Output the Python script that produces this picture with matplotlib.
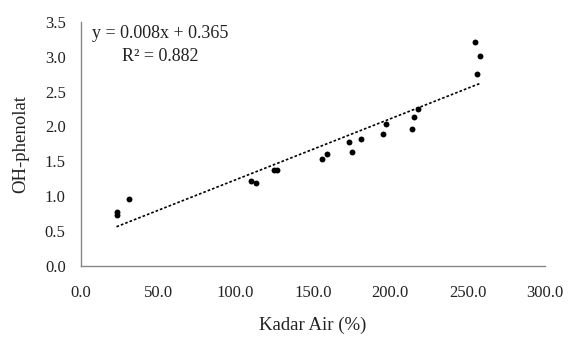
import numpy as np
import matplotlib
matplotlib.use("Agg")
import matplotlib.pyplot as plt

# Data
kadar_air = [23, 23, 31, 110, 113, 125, 127, 156, 159, 173, 175, 181, 195, 197,
             214, 215, 218, 255, 258, 256]
oh_phenolat = [0.78, 0.73, 0.96, 1.22, 1.19, 1.37, 1.38, 1.53, 1.60, 1.78, 1.63,
               1.82, 1.89, 2.03, 1.97, 2.14, 2.25, 3.21, 3.01, 2.75]
x_ticks = [0, 50, 100, 150, 200, 250, 300]
y_ticks = [0.0, 0.5, 1.0, 1.5, 2.0, 2.5, 3.0, 3.5]
eq_text = "y = 0.008x + 0.365"
r2_text = "R² = 0.882"

plt.rcParams['font.family'] = ['Liberation Serif', 'DejaVu Serif']

fig = plt.figure(figsize=(5.78, 3.40), dpi=100)
ax = fig.add_axes([0.140, 0.2176, 0.803, 0.7184])

x = np.array(kadar_air, dtype=float)
y = np.array(oh_phenolat, dtype=float)
ax.scatter(x, y, s=18, color='black', zorder=3, linewidths=0)

slope, intercept = np.polyfit(x, y, 1)
xl = np.array([x.min(), x.max()])
ax.plot(xl, slope * xl + intercept, color='black', lw=1.2,
        linestyle=(0, (1.6, 1.2)), zorder=2)

ax.set_xlim(0, 300)
ax.set_ylim(0, 3.5)
ax.set_xticks(x_ticks)
ax.set_xticklabels([f"{v:.1f}" for v in x_ticks])
ax.set_yticks(y_ticks)
ax.set_yticklabels([f"{v:.1f}" for v in y_ticks])
ax.tick_params(axis='both', length=0, labelsize=12, colors='#222222')
ax.tick_params(axis='x', pad=14)
ax.tick_params(axis='y', pad=11)

for s in ['top', 'right']:
    ax.spines[s].set_visible(False)
for s in ['left', 'bottom']:
    ax.spines[s].set_color('#888888')
    ax.spines[s].set_linewidth(1.0)

ax.set_xlabel("Kadar Air (%)", fontsize=13.5, color='#222222', labelpad=11)
ax.set_ylabel("OH-phenolat", fontsize=13.5, color='#222222', labelpad=11)

ax.text(0.17, 0.985, eq_text + "\n" + r2_text, transform=ax.transAxes,
        ha='center', va='top', fontsize=13, color='#222222', linespacing=1.45)

fig.savefig("out.png", dpi=100)
